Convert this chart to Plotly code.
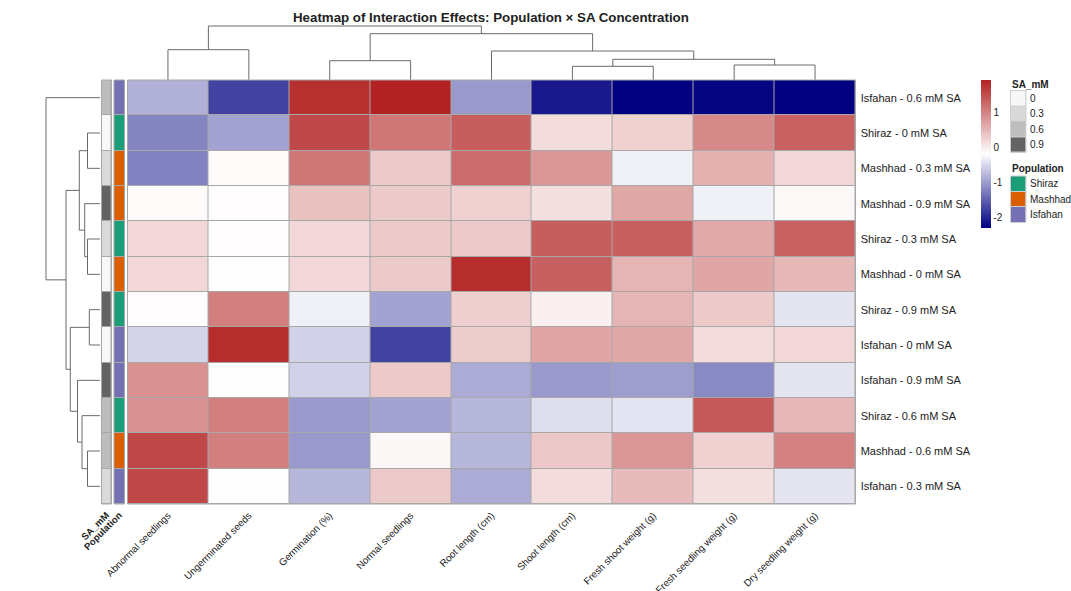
import plotly.graph_objects as go

# ---------------- data ----------------
columns = ["Abnormal seedlings", "Ungerminated seeds", "Germination (%)", "Normal seedlings",
           "Root length (cm)", "Shoot length (cm)", "Fresh shoot weight (g)",
           "Fresh seedling weight (g)", "Dry seedling weight (g)"]

rows = ["Isfahan - 0.6 mM SA", "Shiraz - 0 mM SA", "Mashhad - 0.3 mM SA", "Mashhad - 0.9 mM SA",
        "Shiraz - 0.3 mM SA", "Mashhad - 0 mM SA", "Shiraz - 0.9 mM SA", "Isfahan - 0 mM SA",
        "Isfahan - 0.9 mM SA", "Shiraz - 0.6 mM SA", "Mashhad - 0.6 mM SA", "Isfahan - 0.3 mM SA"]

row_population = ["Isfahan", "Shiraz", "Mashhad", "Mashhad", "Shiraz", "Mashhad",
                  "Shiraz", "Isfahan", "Isfahan", "Shiraz", "Mashhad", "Isfahan"]
row_sa = ["0.6", "0", "0.3", "0.9", "0.3", "0", "0.9", "0", "0.9", "0.6", "0.6", "0.3"]

values = [
    [-0.84, -1.75, 1.80, 1.93, -1.03, -2.09, -2.30, -2.26, -2.29],
    [-1.20, -0.95, 1.57, 1.12, 1.36, 0.15, 0.26, 0.94, 1.32],
    [-1.21, -0.15, 1.13, 0.32, 1.22, 0.81, -0.31, 0.56, 0.20],
    [-0.15, -0.16, 0.41, 0.32, 0.26, 0.12, 0.66, -0.31, -0.12],
    [0.20, -0.16, 0.20, 0.32, 0.32, 1.36, 1.34, 0.63, 1.32],
    [0.20, -0.18, 0.20, 0.32, 1.82, 1.34, 0.52, 0.68, 0.49],
    [-0.16, 1.04, -0.31, -0.95, 0.28, -0.04, 0.52, 0.32, -0.40],
    [-0.53, 1.82, -0.57, -1.75, 0.30, 0.68, 0.66, 0.15, 0.20],
    [0.87, -0.18, -0.57, 0.32, -0.88, -1.03, -1.00, -1.16, -0.41],
    [0.87, 1.04, -1.03, -0.95, -0.78, -0.46, -0.42, 1.40, 0.49],
    [1.57, 1.04, -1.03, -0.11, -0.78, 0.34, 0.81, 0.26, 1.02],
    [1.57, -0.18, -0.78, 0.32, -0.88, 0.15, 0.47, 0.12, -0.40],
]

z_min, z_max = -2.30, 1.93

sa_levels = ["0", "0.3", "0.6", "0.9"]
sa_colors = ["#F7F7F7", "#D9D9D9", "#BDBDBD", "#636363"]
pop_levels = ["Shiraz", "Mashhad", "Isfahan"]
pop_colors = ["#1B9E77", "#D95F02", "#7570B3"]

# hierarchical clustering merges: (child_a, child_b, height); leaves 0..n-1, merge k -> node n+k
col_merges = [(0, 1, 30.3), (2, 3, 19.3), (5, 6, 13.7), (7, 8, 15.0), (11, 12, 20.7),
              (4, 13, 29.0), (10, 14, 46.3), (9, 15, 54.0)]
row_merges = [(1, 2, 12.5), (4, 5, 12.5), (3, 13, 15.3), (12, 14, 20.7), (6, 7, 10.7),
              (10, 11, 12.5), (9, 17, 18.0), (8, 18, 22.5), (16, 19, 29.7), (15, 20, 34.0),
              (0, 21, 54.0)]

# ---------------- helpers ----------------
W, H = 1071, 591
FONT = "Liberation Sans, Arial, Helvetica, sans-serif"
BORDER = "#A8A8A8"


def xd(a, b):
    return [a / W, b / W]


def yd(top, bottom):
    return [1 - bottom / H, 1 - top / H]


def dendro(n, merges):
    pos = {i: float(i) for i in range(n)}
    hgt = {i: 0.0 for i in range(n)}
    p, h = [], []
    for k, (a, b, ht) in enumerate(merges):
        p += [pos[a], pos[a], pos[b], pos[b], None]
        h += [hgt[a], ht, ht, hgt[b], None]
        pos[n + k] = (pos[a] + pos[b]) / 2
        hgt[n + k] = ht
    return p, h


def discrete_scale(colors):
    n = len(colors)
    cs = []
    for i, c in enumerate(colors):
        cs += [[i / n, c], [(i + 1) / n, c]]
    return cs


nr, nc = len(rows), len(columns)
fig = go.Figure()

# main heatmap
fig.add_trace(go.Heatmap(
    z=values, x=list(range(nc)), y=list(range(nr)),
    zmin=z_min, zmax=z_max,
    colorscale=[[0, "#000080"], [0.5, "#FFFFFF"], [1, "#B22222"]],
    xgap=1, ygap=1, xaxis="x", yaxis="y",
    colorbar=dict(x=981 / W, xanchor="left", y=1 - 80 / H, yanchor="top",
                  len=148 / H, lenmode="fraction", thickness=10, thicknessmode="pixels",
                  outlinewidth=0, tickvals=[-2, -1, 0, 1], ticktext=["-2", "-1", "0", "1"],
                  tickfont=dict(size=10, color="#222", family=FONT), ticks="", xpad=0, ypad=0),
    hoverinfo="skip",
))

# annotation columns
sa_idx = [[sa_levels.index(s)] for s in row_sa]
pop_idx = [[pop_levels.index(p)] for p in row_population]
fig.add_trace(go.Heatmap(z=sa_idx, x=[0], y=list(range(nr)), zmin=-0.5, zmax=len(sa_levels) - 0.5,
                         colorscale=discrete_scale(sa_colors), showscale=False, xgap=1, ygap=1,
                         xaxis="x2", yaxis="y", hoverinfo="skip"))
fig.add_trace(go.Heatmap(z=pop_idx, x=[0], y=list(range(nr)), zmin=-0.5, zmax=len(pop_levels) - 0.5,
                         colorscale=discrete_scale(pop_colors), showscale=False, xgap=1, ygap=1,
                         xaxis="x3", yaxis="y", hoverinfo="skip"))

# dendrograms
cp, ch = dendro(nc, col_merges)
fig.add_trace(go.Scatter(x=cp, y=ch, mode="lines", line=dict(color="#6A6A6A", width=1),
                         xaxis="x4", yaxis="y4", hoverinfo="skip", showlegend=False))
rp, rh = dendro(nr, row_merges)
fig.add_trace(go.Scatter(x=rh, y=rp, mode="lines", line=dict(color="#6A6A6A", width=1),
                         xaxis="x5", yaxis="y", hoverinfo="skip", showlegend=False))

# legend swatches
fig.add_trace(go.Heatmap(z=[[i] for i in range(len(sa_levels))], x=[0], y=list(range(len(sa_levels))),
                         zmin=-0.5, zmax=len(sa_levels) - 0.5, colorscale=discrete_scale(sa_colors),
                         showscale=False, xgap=1, ygap=1, xaxis="x6", yaxis="y6", hoverinfo="skip"))
fig.add_trace(go.Heatmap(z=[[i] for i in range(len(pop_levels))], x=[0], y=list(range(len(pop_levels))),
                         zmin=-0.5, zmax=len(pop_levels) - 0.5, colorscale=discrete_scale(pop_colors),
                         showscale=False, xgap=1, ygap=1, xaxis="x7", yaxis="y7", hoverinfo="skip"))

hidden = dict(visible=False, showgrid=False, zeroline=False, fixedrange=True, automargin=False)
tick_font = dict(size=10, color="#222", family=FONT)

layout = dict(
    template="none",
    width=W, height=H, autosize=False,
    margin=dict(l=0, r=0, t=0, b=0, pad=0),
    paper_bgcolor="white", plot_bgcolor="white",
    showlegend=False,
    font=dict(family=FONT, color="#222"),
    xaxis=dict(domain=xd(127.5, 855.5), range=[-0.5, nc - 0.5], tickvals=list(range(nc)),
               ticktext=columns, tickangle=-45, tickfont=dict(size=9.8, color="#222", family=FONT),
               showgrid=False, automargin=False,
               zeroline=False, ticks="outside", ticklen=1, tickcolor="rgba(0,0,0,0)",
               showline=False, anchor="y"),
    yaxis=dict(domain=yd(80, 504), range=[nr - 0.5, -0.5], tickvals=list(range(nr)),
               ticktext=rows, side="right", tickfont=dict(size=11, color="#222", family=FONT),
               showgrid=False, zeroline=False, ticks="outside", ticklen=2, automargin=False,
               tickcolor="rgba(0,0,0,0)", anchor="x"),
    xaxis2=dict(domain=xd(101.5, 111.5), range=[-0.5, 0.5], tickvals=[0], automargin=False,
                ticktext=["<b>SA_mM</b>"], tickangle=-45, tickfont=dict(size=9.5, color="#222", family=FONT),
                showgrid=False, zeroline=False, ticks="outside", ticklen=1, tickcolor="rgba(0,0,0,0)",
                anchor="y"),
    xaxis3=dict(domain=xd(114, 124.5), range=[-0.5, 0.5], tickvals=[0], automargin=False,
                ticktext=["<b>Population</b>"], tickangle=-45, tickfont=dict(size=9.5, color="#222", family=FONT),
                showgrid=False, zeroline=False, ticks="outside", ticklen=1, tickcolor="rgba(0,0,0,0)",
                anchor="y"),
    xaxis4=dict(domain=xd(127.5, 855.5), range=[-0.5, nc - 0.5], anchor="y4", **hidden),
    yaxis4=dict(domain=yd(24, 80), range=[0, 56], anchor="x4", **hidden),
    xaxis5=dict(domain=xd(44, 100), range=[56, 0], anchor="y", **hidden),
    xaxis6=dict(domain=xd(1010.5, 1026), range=[-0.5, 0.5], anchor="y6", **hidden),
    yaxis6=dict(domain=yd(90.5, 152.5), range=[len(sa_levels) - 0.5, -0.5], anchor="x6", side="right",
                tickvals=list(range(len(sa_levels))), ticktext=sa_levels, tickfont=tick_font,
                showgrid=False, zeroline=False, ticks="outside", ticklen=1, automargin=False,
                tickcolor="rgba(0,0,0,0)"),
    xaxis7=dict(domain=xd(1010.5, 1026), range=[-0.5, 0.5], anchor="y7", **hidden),
    yaxis7=dict(domain=yd(176, 222.5), range=[len(pop_levels) - 0.5, -0.5], anchor="x7", side="right",
                tickvals=list(range(len(pop_levels))), ticktext=pop_levels, tickfont=tick_font,
                showgrid=False, zeroline=False, ticks="outside", ticklen=1, automargin=False,
                tickcolor="rgba(0,0,0,0)"),
)
fig.update_layout(**layout)

# grey cell-border backgrounds and outlines
shapes = []
for xr, yr, col in [("x", "y", BORDER), ("x2", "y", BORDER), ("x3", "y", BORDER),
                    ("x6", "y6", "#CFCFCF"), ("x7", "y7", "#CFCFCF")]:
    shapes.append(dict(type="rect", xref=f"{xr} domain", yref=f"{yr} domain", x0=0, x1=1, y0=0, y1=1,
                       fillcolor=col, line=dict(width=0), layer="below"))
    shapes.append(dict(type="rect", xref=f"{xr} domain", yref=f"{yr} domain", x0=0, x1=1, y0=0, y1=1,
                       fillcolor="rgba(0,0,0,0)", line=dict(width=1, color=col), layer="above"))
fig.update_layout(shapes=shapes)

fig.add_annotation(text="<b>Heatmap of Interaction Effects: Population × SA Concentration</b>",
                   xref="paper", yref="paper", x=491 / W, y=1 - 17 / H, xanchor="center", yanchor="middle",
                   showarrow=False, font=dict(size=13.3, color="#222", family=FONT))
fig.add_annotation(text="<b>SA_mM</b>", xref="paper", yref="paper", x=1010 / W, y=1 - 85 / H,
                   xanchor="left", yanchor="middle", showarrow=False,
                   font=dict(size=10, color="#222", family=FONT))
fig.add_annotation(text="<b>Population</b>", xref="paper", yref="paper", x=1010 / W, y=1 - 169 / H,
                   xanchor="left", yanchor="middle", showarrow=False,
                   font=dict(size=10, color="#222", family=FONT))

fig.write_html("out.html")
